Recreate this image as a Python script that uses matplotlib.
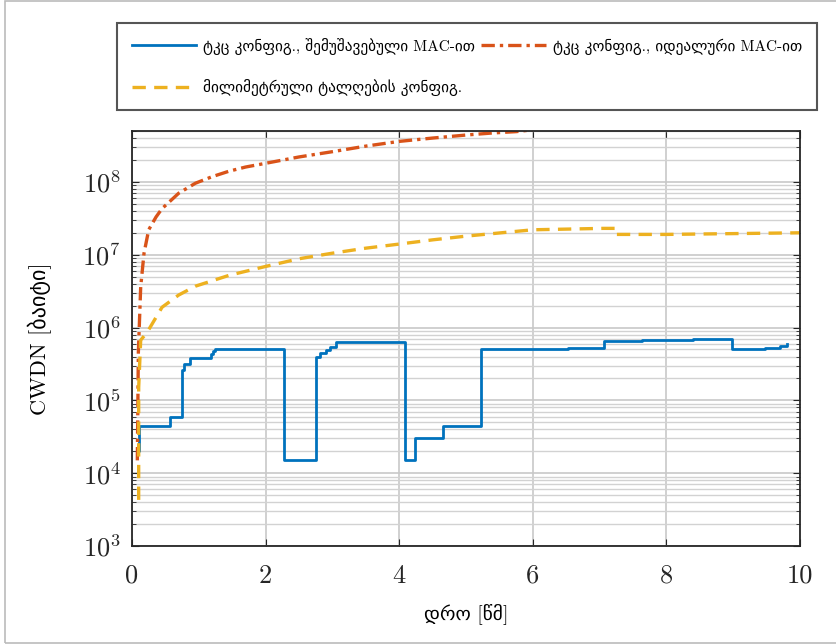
import numpy as np
import matplotlib
matplotlib.use('Agg')
import matplotlib.pyplot as plt
from matplotlib.ticker import FuncFormatter, LogLocator, NullFormatter
from matplotlib.patches import Rectangle

# CM for latin/digits, DejaVu Sans picks up the georgian glyphs
plt.rcParams['font.family'] = ['cmr10', 'DejaVu Sans']
plt.rcParams['mathtext.fontset'] = 'cm'
plt.rcParams['axes.formatter.use_mathtext'] = True

# --- data ---
blue_t = [0.07, 0.10, 0.57, 0.75, 0.78, 0.87, 1.18, 1.22, 1.25, 2.28, 2.76,
          2.82, 2.90, 2.97, 3.05, 4.08, 4.23, 4.65, 5.22, 6.52, 7.06, 7.63,
          8.40, 8.98, 9.47, 9.70, 9.80]
blue_v = [2.0e4, 4.4e4, 5.9e4, 2.6e5, 3.2e5, 3.8e5, 4.3e5, 4.7e5, 5.1e5,
          1.5e4, 4.0e5, 4.5e5, 4.9e5, 5.4e5, 6.3e5, 1.5e4, 3.0e4, 4.4e4,
          5.1e5, 5.3e5, 6.6e5, 6.8e5, 6.9e5, 5.1e5, 5.2e5, 5.6e5, 6.0e5]

orange_t = [0.08, 0.095, 0.13, 0.18, 0.25, 0.36, 0.45, 0.7, 0.95, 1.2, 1.45,
            1.7, 2.0, 2.5, 3.0, 3.5, 4.0, 4.5, 5.0, 5.4, 5.75, 6.0]
orange_v = [1.5e4, 4.5e5, 3.6e6, 1.05e7, 2.2e7, 3.3e7, 4.3e7, 7.0e7, 9.6e7,
            1.18e8, 1.4e8, 1.6e8, 1.8e8, 2.2e8, 2.6e8, 3.1e8, 3.6e8, 4.0e8,
            4.4e8, 4.7e8, 4.9e8, 5.2e8]

yellow_t = [0.10, 0.10, 0.13, 0.23, 0.45, 0.7, 0.95, 1.45, 2.0, 2.5, 3.0,
            3.5, 4.0, 4.5, 5.0, 6.0, 7.05, 7.23, 7.23, 8.0, 10.0]
yellow_v = [4.3e3, 1.5e5, 6.7e5, 8.7e5, 1.9e6, 2.8e6, 3.7e6, 5.2e6, 6.9e6,
            8.8e6, 1.05e7, 1.23e7, 1.4e7, 1.6e7, 1.8e7, 2.2e7, 2.3e7, 2.3e7,
            1.9e7, 1.9e7, 2.0e7]

labels = ['ტკც კონფიგ., შემუშავებული MAC-ით',
          'ტკც კონფიგ., იდეალური MAC-ით',
          'მილიმეტრული ტალღების კონფიგ.']
xlabel = 'დრო [წმ]'
ylabel = 'CWDN [ბაიტი]'

fig = plt.figure(figsize=(8.37, 6.44), dpi=100)
ax = fig.add_axes([132/837, 1 - 546/644, (800 - 132)/837, (546 - 131)/644])

l_blue, = ax.plot(blue_t, blue_v, color='#0072BD', lw=2.0, drawstyle='steps-post')
l_or, = ax.plot(orange_t, orange_v, color='#D95319', lw=2.4,
                dashes=(4, 1.5, 1, 1.5))
l_ye, = ax.plot(yellow_t, yellow_v, color='#EDB120', lw=2.4, dashes=(4, 2.5))

ax.set_yscale('log')
ax.set_xlim(0, 10)
ax.set_ylim(1e3, 5e8)
ax.set_xticks([0, 2, 4, 6, 8, 10])
ax.xaxis.set_major_formatter(FuncFormatter(lambda v, p: '%g' % v))
ax.yaxis.set_major_locator(LogLocator(base=10, numticks=10))
ax.yaxis.set_minor_locator(LogLocator(base=10, subs=np.arange(2, 10), numticks=20))
ax.yaxis.set_minor_formatter(NullFormatter())
ax.tick_params(axis='both', which='major', labelsize=19, direction='in',
               length=5, width=0.8, top=True, right=True, colors='#262626')
ax.tick_params(axis='x', which='major', pad=13)
ax.tick_params(axis='y', which='major', pad=8)
ax.tick_params(axis='y', which='minor', direction='in', length=3, width=0.6,
               left=True, right=True, colors='#262626')
ax.grid(True, which='major', color='#c8c8c8', lw=1.2)
ax.grid(True, which='minor', axis='y', color='#d2d2d2', lw=1.0)
ax.set_axisbelow(True)
for s in ax.spines.values():
    s.set_linewidth(1.3)
    s.set_color('#262626')

ax.set_xlabel(xlabel, fontsize=14, labelpad=11)
ax.set_ylabel(ylabel, fontsize=16, labelpad=22)

leg = fig.legend([l_blue, l_ye, l_or], [labels[0], labels[2], labels[1]],
                 loc='upper left', ncol=2,
                 bbox_to_anchor=(117/837, 1 - 23/644), borderaxespad=0,
                 prop={'size': 11},
                 handlelength=4.2, handletextpad=0.5, columnspacing=0.4,
                 labelspacing=1.6, borderpad=0.95, fancybox=False,
                 edgecolor='#555555', framealpha=1)
leg.get_frame().set_linewidth(1.5)

fig.patches.append(Rectangle((5/837, 1/644), 1.0, 642/644, transform=fig.transFigure,
                             fill=False, edgecolor='#bbbbbb', lw=1.2))

fig.savefig('out.png', dpi=100)
